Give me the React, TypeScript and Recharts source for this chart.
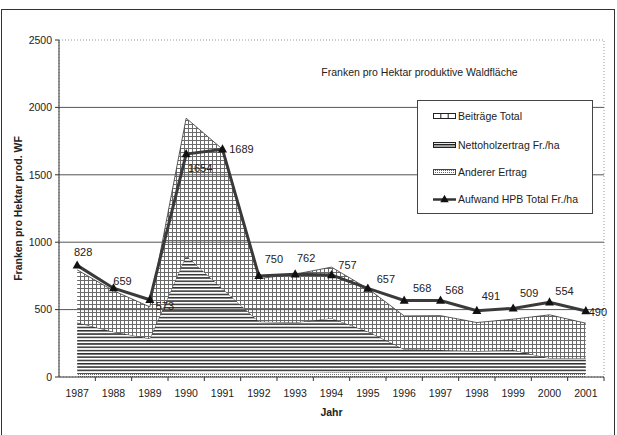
import React from 'react';
import {
  ComposedChart,
  Area,
  Line,
  XAxis,
  YAxis,
  LabelList,
  ReferenceArea,
  ReferenceLine,
} from 'recharts';

const years = ['1987', '1988', '1989', '1990', '1991', '1992', '1993', '1994', '1995', '1996', '1997', '1998', '1999', '2000', '2001'];
const andererErtrag = [25, 25, 25, 30, 30, 30, 30, 35, 35, 30, 30, 25, 25, 25, 25];
const nettoholzertrag = [379, 310, 260, 870, 625, 381, 374, 401, 302, 176, 170, 168, 175, 114, 114];
const beitraegeTotal = [391, 305, 235, 1020, 1035, 319, 359, 379, 319, 247, 255, 211, 229, 322, 260];
const aufwandTotal = [828, 659, 573, 1654, 1689, 750, 762, 757, 657, 568, 568, 491, 509, 554, 490];

const yTicks = [0, 500, 1000, 1500, 2000, 2500];
const gridValues = [500, 1000, 1500, 2000];

const chartTitle = 'Franken pro Hektar produktive Waldfläche';
const yTitle = 'Franken pro Hektar prod. WF';
const xTitle = 'Jahr';
const legendNames = ['Beiträge Total', 'Nettoholzertrag Fr./ha', 'Anderer Ertrag', 'Aufwand HPB Total Fr./ha'];

// label placement relative to each point (style only)
const labelOffsets: [number, number][] = [
  [6, -13], [9, -7], [15, 6], [14, 14], [19, 0], [15, -17], [11, -16], [16, -10],
  [18, -9], [18, -12], [14, -10], [14, -15], [16, -15], [15, -11], [12, 1],
];

const data = years.map((year, i) => ({
  year,
  anderer: andererErtrag[i],
  netto: nettoholzertrag[i],
  beitraege: beitraegeTotal[i],
  aufwand: aufwandTotal[i],
}));

const FONT = '"Liberation Sans", Arial, Helvetica, sans-serif';

const XTick = (props: any) => {
  const { x, y, payload } = props;
  const half = payload && typeof payload.offset === 'number' && payload.offset > 0 ? payload.offset : 18.17;
  return (
    <g>
      <text x={x} y={y + 20} textAnchor="middle" fontSize={10.5} fill="#222" fontFamily={FONT}>
        {payload.value}
      </text>
      <line x1={x + half} x2={x + half} y1={y} y2={y + 4} stroke="#333" strokeWidth={1} />
    </g>
  );
};

const TriangleDot = (props: any) => {
  const { cx, cy, index } = props;
  if (cx == null || cy == null) return <g key={index} />;
  return (
    <polygon
      key={index}
      points={`${cx},${cy - 5} ${cx - 4.5},${cy + 3.2} ${cx + 4.5},${cy + 3.2}`}
      fill="#111"
    />
  );
};

const PointLabel = (props: any) => {
  const { x, y, value, index } = props;
  const off = labelOffsets[index] || [14, -12];
  return (
    <text
      x={x + off[0]}
      y={y + off[1]}
      textAnchor="middle"
      dominantBaseline="central"
      fontSize={11}
      fill="#222"
      fontFamily={FONT}
    >
      {value}
    </text>
  );
};

const YTitle = (props: any) => {
  const vb = props.viewBox || { x: 0, y: 40, width: 59, height: 337 };
  const cx = vb.x + vb.width / 2 - 12;
  const cy = vb.y + vb.height / 2;
  return (
    <text
      x={cx}
      y={cy}
      transform={`rotate(-90, ${cx}, ${cy})`}
      textAnchor="middle"
      dominantBaseline="central"
      fontSize={10.5}
      fontWeight="bold"
      fill="#222"
      fontFamily={FONT}
    >
      {yTitle}
    </text>
  );
};

const XTitle = (props: any) => {
  const vb = props.viewBox || { x: 59, y: 377, width: 545, height: 58 };
  return (
    <text
      x={vb.x + vb.width / 2}
      y={vb.y + 39}
      textAnchor="middle"
      fontSize={10.5}
      fontWeight="bold"
      fill="#222"
      fontFamily={FONT}
    >
      {xTitle}
    </text>
  );
};

const Swatch = ({ kind }: { kind: number }) => {
  if (kind === 0) {
    return (
      <svg width={24} height={8} style={{ display: 'block' }}>
        <rect x={0.5} y={1.5} width={22} height={5} fill="#fff" stroke="#222" strokeWidth={1} />
        <line x1={7.8} x2={7.8} y1={1.5} y2={6.5} stroke="#222" />
        <line x1={15.2} x2={15.2} y1={1.5} y2={6.5} stroke="#222" />
      </svg>
    );
  }
  if (kind === 1) {
    return (
      <svg width={24} height={8} style={{ display: 'block' }}>
        <rect x={0.5} y={1.5} width={22} height={5} fill="#fff" stroke="#222" strokeWidth={1} />
        <line x1={0.5} x2={22.5} y1={3.5} y2={3.5} stroke="#222" strokeWidth={1.2} />
        <line x1={0.5} x2={22.5} y1={5} y2={5} stroke="#222" strokeWidth={0.8} />
      </svg>
    );
  }
  if (kind === 2) {
    return (
      <svg width={24} height={8} style={{ display: 'block' }}>
        <rect x={0.5} y={1.5} width={22} height={5} fill="url(#pDots)" stroke="#444" strokeWidth={1} />
      </svg>
    );
  }
  return (
    <svg width={24} height={10} style={{ display: 'block' }}>
      <line x1={0} x2={23} y1={5.5} y2={5.5} stroke="#333" strokeWidth={2.5} />
      <polygon points="11.5,0.8 7.3,8.2 15.7,8.2" fill="#111" />
    </svg>
  );
};

export default function App() {
  return (
    <div
      style={{
        position: 'absolute',
        left: 0,
        top: 0,
        width: 617,
        height: 435,
        overflow: 'hidden',
        background: '#fff',
        fontFamily: FONT,
      }}
    >
      <svg width={0} height={0} style={{ position: 'absolute' }}>
        <defs>
          <pattern id="pGrid" patternUnits="userSpaceOnUse" width={4} height={4}>
            <rect width={4} height={4} fill="#fff" />
            <path d="M0 0.5 H4 M0.5 0 V4" stroke="#6a6a6a" strokeWidth={1} />
          </pattern>
          <pattern id="pHoriz" patternUnits="userSpaceOnUse" width={8} height={3.3}>
            <rect width={8} height={3.3} fill="#fff" />
            <rect x={0} y={0} width={8} height={1.5} fill="#2e2e2e" />
          </pattern>
          <pattern id="pDots" patternUnits="userSpaceOnUse" width={2} height={2}>
            <rect width={2} height={2} fill="#fff" />
            <rect width={1} height={1} fill="#6a6a6a" />
          </pattern>
        </defs>
      </svg>

      <ComposedChart
        width={617}
        height={435}
        data={data}
        margin={{ top: 40, right: 13, bottom: 0, left: 0 }}
      >
        <ReferenceArea y1={0} y2={2500} fill="none" stroke="#9a9a9a" strokeDasharray="1 2" ifOverflow="visible" />
        {gridValues.map((v) => (
          <ReferenceLine key={v} y={v} stroke="#555" strokeWidth={1} />
        ))}
        <XAxis
          dataKey="year"
          scale="band"
          height={58}
          tickLine={false}
          tickSize={0}
          tickMargin={0}
          axisLine={{ stroke: '#333' }}
          tick={<XTick />}
          interval={0}
          label={<XTitle />}
        />
        <YAxis
          width={59}
          domain={[0, 2500]}
          ticks={yTicks}
          tickSize={4}
          tickMargin={3}
          axisLine={{ stroke: '#333' }}
          tickLine={{ stroke: '#333' }}
          tick={{ fontSize: 10.5, fill: '#222', fontFamily: FONT }}
          interval={0}
          label={<YTitle />}
        />
        <Area
          type="linear"
          dataKey="anderer"
          stackId="s"
          fill="url(#pDots)"
          fillOpacity={1}
          stroke="#555"
          strokeWidth={0.6}
          isAnimationActive={false}
        />
        <Area
          type="linear"
          dataKey="netto"
          stackId="s"
          fill="url(#pHoriz)"
          fillOpacity={1}
          stroke="#333"
          strokeWidth={0.8}
          isAnimationActive={false}
        />
        <Area
          type="linear"
          dataKey="beitraege"
          stackId="s"
          fill="url(#pGrid)"
          fillOpacity={1}
          stroke="#333"
          strokeWidth={0.8}
          isAnimationActive={false}
        />
        <Line
          type="linear"
          dataKey="aufwand"
          stroke="#3a3a3a"
          strokeWidth={3}
          dot={<TriangleDot />}
          activeDot={false}
          isAnimationActive={false}
        >
          <LabelList dataKey="aufwand" content={<PointLabel />} />
        </Line>
      </ComposedChart>

      <div
        style={{
          position: 'absolute',
          left: 317,
          top: 65,
          width: 205,
          textAlign: 'center',
          fontSize: 10.5,
          color: '#222',
          whiteSpace: 'nowrap',
          lineHeight: '14px',
        }}
      >
        {chartTitle}
      </div>

      <div
        style={{
          position: 'absolute',
          left: 417,
          top: 100,
          width: 176,
          height: 114,
          boxSizing: 'border-box',
          border: '1px solid #444',
          background: '#fff',
        }}
      >
        {legendNames.map((name, i) => (
          <div
            key={name}
            style={{
              position: 'absolute',
              left: 15,
              top: [8, 37, 64, 91][i],
              height: 14,
              display: 'flex',
              alignItems: 'center',
              fontSize: 10.5,
              color: '#222',
              whiteSpace: 'nowrap',
            }}
          >
            <Swatch kind={i} />
            <span style={{ marginLeft: 1 }}>{name}</span>
          </div>
        ))}
      </div>

      <div
        style={{
          position: 'absolute',
          left: 1,
          top: 9,
          width: 614,
          height: 430,
          boxSizing: 'border-box',
          borderTop: '1.5px solid #333',
          borderLeft: '1.5px solid #333',
          borderRight: '1.5px solid #333',
          pointerEvents: 'none',
        }}
      />
    </div>
  );
}
